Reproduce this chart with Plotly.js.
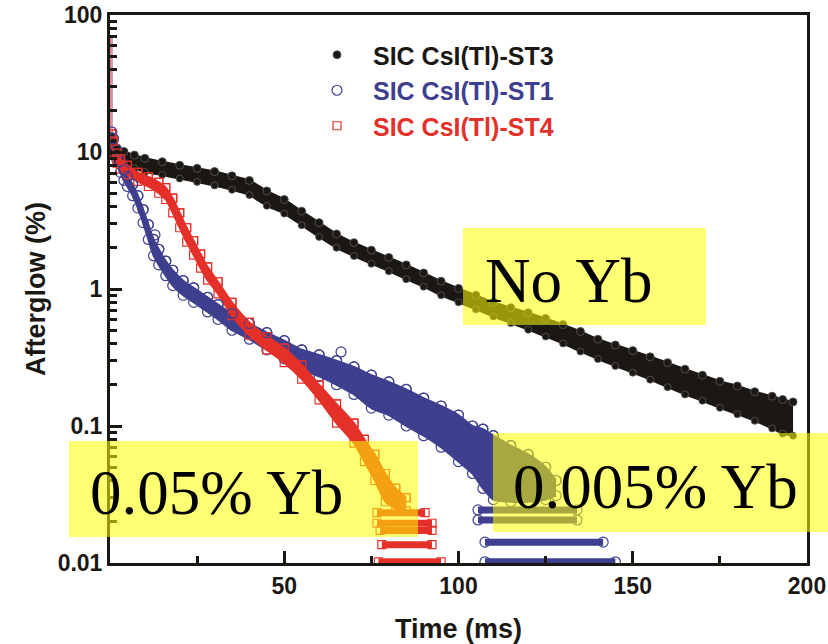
<!DOCTYPE html>
<html>
<head>
<meta charset="utf-8">
<script src="https://cdn.plot.ly/plotly-3.0.1.min.js"></script>
<style>html,body{margin:0;padding:0;background:#fff;}#chart{width:828px;height:644px;}</style>
</head>
<body>
<div id="chart"></div>
<script>
// ---- Data (Time in ms, Afterglow in %) ----
// SIC CsI(Tl)-ST3 (No Yb): upper / lower edges of the dense marker band
const st3T     = [0.5, 1, 2, 4, 7, 10, 15, 20, 25, 30, 35, 40, 45, 50, 55, 60, 65, 70, 75, 80, 85, 90, 95, 100, 105, 110, 115, 120, 125, 130, 135, 140, 145, 150, 155, 160, 165, 170, 175, 180, 185, 190, 193, 196];
const st3Upper = [13.0, 11.8, 10.7, 10.1, 9.5, 9.0, 8.5, 8.0, 7.6, 7.2, 6.7, 6.2, 5.2, 4.5, 3.7, 3.05, 2.52, 2.18, 1.92, 1.7, 1.5, 1.31, 1.14, 1.01, 0.9, 0.8, 0.73, 0.67, 0.61, 0.55, 0.49, 0.43, 0.39, 0.355, 0.32, 0.29, 0.26, 0.235, 0.212, 0.196, 0.178, 0.165, 0.156, 0.15];
const st3Lower = [10.6, 9.5, 8.6, 8.1, 7.6, 7.15, 6.8, 6.4, 6.05, 5.7, 5.3, 4.85, 4.05, 3.55, 2.92, 2.4, 2.0, 1.74, 1.53, 1.35, 1.18, 1.04, 0.9, 0.8, 0.71, 0.63, 0.565, 0.505, 0.45, 0.4, 0.35, 0.308, 0.274, 0.245, 0.218, 0.192, 0.17, 0.153, 0.136, 0.122, 0.109, 0.096, 0.088, 0.085];

// SIC CsI(Tl)-ST1 (0.005% Yb)
const st1T     = [0.5, 1, 2, 3, 4, 5, 6.5, 8, 9.5, 11, 12.5, 14, 16, 18, 21, 24, 28, 31, 35, 40, 45, 50, 55, 60, 65, 70, 75, 80, 85, 90, 95, 100, 104, 107, 110, 115, 120, 125, 128];
const st1Upper = [14, 12.5, 10.3, 8.5, 7.4, 6.6, 5.8, 4.8, 3.8, 2.95, 2.3, 1.95, 1.6, 1.37, 1.15, 1.02, 0.87, 0.77, 0.66, 0.56, 0.48, 0.42, 0.36, 0.33, 0.3, 0.27, 0.235, 0.21, 0.185, 0.16, 0.14, 0.12, 0.1, 0.095, 0.085, 0.072, 0.062, 0.05, 0.04];
const st1Lower = [12, 10.6, 8.7, 7.1, 6.2, 5.6, 4.8, 3.9, 3.05, 2.3, 1.75, 1.5, 1.25, 1.06, 0.9, 0.8, 0.68, 0.6, 0.5, 0.43, 0.36, 0.31, 0.26, 0.23, 0.2, 0.17, 0.135, 0.12, 0.1, 0.085, 0.07, 0.055, 0.045, 0.035, 0.029, 0.028, 0.028, 0.029, 0.031];
const st1RowLevels = [0.0244, 0.0206, 0.0142, 0.0102];
const st1RowStart  = [105.6, 105.6, 107.6, 107.6];
const st1RowEnd    = [134, 134, 141.5, 145];
const st1OutT = [12.9, 66.3];
const st1OutV = [2.48, 0.347];

// SIC CsI(Tl)-ST4 (0.05% Yb)
const st4T     = [0.5, 1, 2, 3, 5, 8, 11, 14, 16, 18, 20, 22, 24, 26, 28, 31, 35, 40, 45, 50, 55, 60, 65, 70, 73, 76, 79, 82, 85];
const st4Upper = [13.5, 12, 9.8, 8.9, 8.0, 7.1, 6.6, 6.0, 5.5, 4.6, 3.6, 2.8, 2.25, 1.8, 1.45, 1.13, 0.8, 0.57, 0.45, 0.37, 0.28, 0.2, 0.145, 0.105, 0.08, 0.062, 0.045, 0.035, 0.03];
const st4Lower = [11.5, 10, 8.3, 7.5, 6.8, 6.1, 5.6, 5.0, 4.5, 3.6, 2.8, 2.2, 1.77, 1.42, 1.16, 0.92, 0.64, 0.46, 0.36, 0.29, 0.22, 0.155, 0.105, 0.075, 0.055, 0.04, 0.028, 0.025, 0.024];
const st4RowLevels = [0.0233, 0.0195, 0.0173, 0.0136, 0.0102];
const st4RowStart  = [76.6, 76.6, 77.5, 78, 77];
const st4RowEnd    = [90.4, 92.4, 92.4, 92.4, 95];

// initial spike at t -> 0
const spikeT   = [0.4, 0.4, 0.4, 0.4, 0.4, 0.4];
const spikeSt1 = [70, 50, 35, 25, 18, 14];
const spikeSt4 = [68, 48, 33, 24, 17, 13.5];

// axes ticks
const yTickVals = [0.01, 0.1, 1, 10, 100];
const yTickText = ['0.01', '0.1', '1', '10', '100'];
const yMinorVals = [0.02,0.03,0.04,0.05,0.06,0.07,0.08,0.09,0.2,0.3,0.4,0.5,0.6,0.7,0.8,0.9,2,3,4,5,6,7,8,9,20,30,40,50,60,70,80,90];
const xTickVals = [50, 100, 150, 200];
const xMinorVals = [25, 75, 125, 175];

const seriesNames = ['SIC CsI(Tl)-ST3', 'SIC CsI(Tl)-ST1', 'SIC CsI(Tl)-ST4'];
const labels = ['No Yb', '0.05% Yb', '0.005% Yb'];

// ---- styling ----
const cBlack = '#1b1814', cBlue = '#3f3f8f', cRed = '#e5302a';
const traces = [];

function band(t, lo, up, color) {
  traces.push({x: t, y: lo, mode: 'lines', line: {color: color, width: 2, shape: 'spline', smoothing: 0.6}, showlegend: false, hoverinfo: 'skip'});
  traces.push({x: t, y: up, mode: 'lines', fill: 'tonexty', fillcolor: color, line: {color: color, width: 2, shape: 'spline', smoothing: 0.6}, showlegend: false, hoverinfo: 'skip'});
}
function rows(levels, starts, ends, color, marker) {
  levels.forEach((lv, i) => {
    traces.push({x: [starts[i], ends[i]], y: [lv, lv], mode: 'lines+markers', line: {color: color, width: 7}, marker: marker, showlegend: false, hoverinfo: 'skip'});
  });
}

const mBlack = {symbol: 'circle', size: 7, color: cBlack, line: {color: '#5a5a5a', width: 0.8}};
const mBlue = {symbol: 'circle-open', size: 10, color: cBlue, line: {width: 1.2}};
const mRed = {symbol: 'square-open', size: 8, color: cRed, line: {width: 1.2}};

// black
band(st3T, st3Lower, st3Upper, cBlack);
traces.push({x: st3T, y: st3Upper, mode: 'markers', marker: mBlack, showlegend: false, hoverinfo: 'skip'});
traces.push({x: st3T, y: st3Lower, mode: 'markers', marker: mBlack, showlegend: false, hoverinfo: 'skip'});
// blue
band(st1T, st1Lower, st1Upper, cBlue);
rows(st1RowLevels, st1RowStart, st1RowEnd, cBlue, mBlue);
traces.push({x: st1T, y: st1Upper, mode: 'markers', marker: mBlue, showlegend: false, hoverinfo: 'skip'});
traces.push({x: st1T, y: st1Lower, mode: 'markers', marker: mBlue, showlegend: false, hoverinfo: 'skip'});
traces.push({x: st1OutT, y: st1OutV, mode: 'markers', marker: mBlue, showlegend: false, hoverinfo: 'skip'});
traces.push({x: spikeT, y: spikeSt1, mode: 'lines', line: {color: cBlue, width: 2}, showlegend: false, hoverinfo: 'skip'});
// red
band(st4T, st4Lower, st4Upper, cRed);
rows(st4RowLevels, st4RowStart, st4RowEnd, cRed, mRed);
traces.push({x: st4T, y: st4Upper, mode: 'markers', marker: mRed, showlegend: false, hoverinfo: 'skip'});
traces.push({x: st4T, y: st4Lower, mode: 'markers', marker: mRed, showlegend: false, hoverinfo: 'skip'});
traces.push({x: spikeT, y: spikeSt4, mode: 'lines', line: {color: '#f08a90', width: 2}, showlegend: false, hoverinfo: 'skip'});

// legend entries (same data as the band edges)
traces.push({x: st3T, y: st3Upper, mode: 'markers', marker: {symbol: 'circle', size: 8, color: cBlack, line: {color: '#5a5a5a', width: 0.8}}, name: '<span style="color:' + cBlack + '">' + seriesNames[0] + '</span>', legendrank: 1});
traces.push({x: st1T, y: st1Upper, mode: 'markers', marker: mBlue, name: '<span style="color:' + cBlue + '">' + seriesNames[1] + '</span>', legendrank: 2});
traces.push({x: st4T, y: st4Upper, mode: 'markers', marker: mRed, name: '<span style="color:' + cRed + '">' + seriesNames[2] + '</span>', legendrank: 3});

const L = 110, R = 807, T = 15, B = 563, W = 828, H = 644;
const px = v => (v - L) / (R - L);
const py = v => (B - v) / (B - T);
const yellow = 'rgba(255,255,0,0.55)';
const boxes = [[463, 706, 228, 325], [69, 418, 441, 537], [493, 828, 433, 532]];
const textPos = [[483, 281], [88, 493], [511, 487]];

const layout = {
  width: W, height: H,
  margin: {l: L, r: W - R, t: T, b: H - B},
  paper_bgcolor: '#fff', plot_bgcolor: '#fff',
  font: {family: 'Liberation Sans, Arial, sans-serif', color: '#1b1814'},
  xaxis: {
    range: [0, 200], tickmode: 'array', tickvals: xTickVals, ticks: 'inside', ticklen: 12, tickwidth: 3, tickcolor: '#1b1814',
    showline: true, linewidth: 3, linecolor: '#1b1814', mirror: true, showgrid: false, zeroline: false,
    tickfont: {size: 23, weight: 700, color: '#1b1814'},
    minor: {tickmode: 'array', tickvals: xMinorVals, ticks: 'inside', ticklen: 7, tickwidth: 3, tickcolor: '#1b1814', showgrid: false},
    title: {text: 'Time (ms)', font: {size: 27, weight: 700}, standoff: 22}
  },
  yaxis: {
    type: 'log', range: [-2, 2], tickmode: 'array', tickvals: yTickVals, ticktext: yTickText, ticks: 'inside', ticklen: 12, tickwidth: 3, tickcolor: '#1b1814',
    showline: true, linewidth: 3, linecolor: '#1b1814', mirror: true, showgrid: false, zeroline: false,
    tickfont: {size: 23, weight: 700, color: '#1b1814'},
    minor: {tickmode: 'array', tickvals: yMinorVals, ticks: 'inside', ticklen: 7, tickwidth: 3, tickcolor: '#1b1814', showgrid: false},
    title: {text: 'Afterglow (%)', font: {size: 27, weight: 700}, standoff: 5}
  },
  legend: {x: px(301), y: py(32), xanchor: 'left', yanchor: 'top', bgcolor: 'rgba(0,0,0,0)', itemwidth: 62,
           font: {size: 25, weight: 700}, traceorder: 'normal', tracegroupgap: 0},
  showlegend: true,
  shapes: boxes.map(b => ({type: 'rect', xref: 'paper', yref: 'paper', x0: px(b[0]), x1: px(b[1]), y0: py(b[3]), y1: py(b[2]), fillcolor: yellow, line: {width: 0}, layer: 'above'})),
  annotations: labels.map((s, i) => ({text: s, xref: 'paper', yref: 'paper', x: px(textPos[i][0]), y: py(textPos[i][1]), xanchor: 'left', yanchor: 'middle', showarrow: false,
                                      font: {family: 'Liberation Serif, Times New Roman, serif', size: 63, color: '#000'}}))
};
Plotly.newPlot('chart', traces, layout, {displayModeBar: false, staticPlot: true});
</script>
</body>
</html>
